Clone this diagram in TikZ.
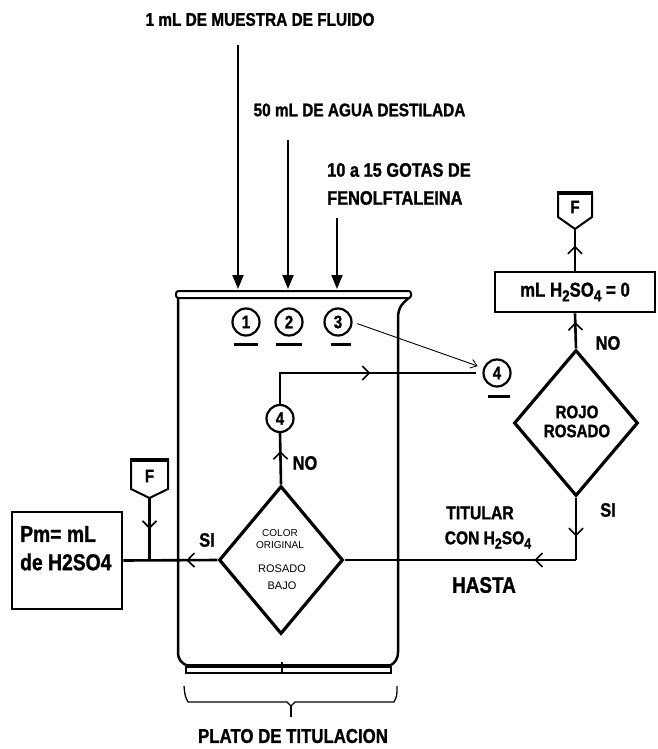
\documentclass[tikz,border=0pt]{standalone}
\usepackage{graphicx}
\usepackage{fontspec}
\setmainfont{Liberation Sans}[FakeStretch=0.84, BoldFeatures={FakeBold=1.2}]
\newfontfamily\plainsans{Liberation Sans}
\usetikzlibrary{arrows.meta,shapes.geometric,decorations.markings,calc}
\newcommand\fsz[1]{\fontsize{#1}{#1}\selectfont}
\newcommand\sbs[1]{\raisebox{-0.45ex}{\scalebox{0.8}{#1}}}
\tikzset{
  opentip/.tip={Straight Barb[length=7pt,width=14pt,line width=1.6pt]},
  txt/.style={font=\bfseries\fsz{#1}, inner sep=0pt},
  smalltxt/.style={font=\plainsans\fsz{#1}, inner sep=0pt},
  flow/.style={line width=2.6pt},
  midarrow/.style={postaction={decorate}, decoration={markings, mark=at position #1 with {\arrow{opentip}}}},
  toparrow/.style={line width=2pt, -{Triangle[length=14pt,width=11pt]}},
  circ/.style={circle, draw, line width=2.2pt, minimum size=27pt, inner sep=0pt, font=\bfseries\fsz{18}},
  uline/.style={line width=3pt},
  dia/.style={diamond, draw, line width=3.2pt, inner sep=0pt},
  boxx/.style={draw, line width=2.6pt, inner sep=0pt}
}
\begin{document}
\begin{tikzpicture}[x=1pt,y=-1pt]
\useasboundingbox (0,0) rectangle (658,749);

% top texts
\node[txt=18.3] (t1) at (260,19.5) {1 mL DE MUESTRA DE FLUIDO};
\node[txt=18.3] (t2) at (359.5,110) {50 mL DE AGUA DESTILADA};
\node[txt=19.5, anchor=west] (t3a) at (327,170) {10 a 15 GOTAS DE};
\node[txt=19.5, anchor=west] (t3b) at (327,198) {FENOLFTALEINA};

% top arrows
\coordinate (a1s) at (238,45);  \coordinate (a1e) at (238,289);
\coordinate (a2s) at (288,140); \coordinate (a2e) at (288,289);
\coordinate (a3s) at (337,218); \coordinate (a3e) at (337,289);
\draw[toparrow] (a1s) -- (a1e);
\draw[toparrow] (a2s) -- (a2e);
\draw[toparrow] (a3s) -- (a3e);

% beaker
\draw[line width=2.5pt] (178,298) -- (178,652) .. controls (178,660) and (182,663) .. (186,665);
\draw[line width=2.5pt] (410,297) .. controls (404,302) and (398,306) .. (398,318) -- (398,652) .. controls (398,660) and (394,663) .. (391,665);
\draw[line width=2pt, rounded corners=2.5pt, fill=white] (176,291) rectangle (411,298);
\draw[line width=3.5pt] (186,666) -- (391,666);
\draw[line width=1.2pt] (186,666) -- (186,673) -- (391,673) -- (391,666);
\draw[line width=1.5pt] (282,662) -- (282,673);

% brace
\draw[line width=1.3pt, line join=round] (184,686) .. controls (185,696) .. (188,702) -- (287,702) -- (291,706) -- (295,702) -- (394,702) .. controls (397,696) .. (397,686);
\draw[line width=1.3pt] (291,706) -- (291,717);
\node[txt=20] (plato) at (293,736) {PLATO DE TITULACION};

% circles
\node[circ] (c1) at (246,322) {1};
\node[circ] (c2) at (289,322) {2};
\node[circ] (c3) at (338,322) {3};
\draw[uline] ($(c1.south)+(-12,7.5)$) -- ++(24,0);
\draw[uline] ($(c2.south)+(-13,7.5)$) -- ++(26,0);
\draw[uline] ($(c3.south)+(-7,7.5)$) -- ++(20,0);
\node[circ] (c4r) at (497,373) {4};
\draw[uline] ($(c4r.south)+(-9,9)$) -- ++(22,0);
\node[circ] (c4i) at (280,418.5) {4};

% diamonds
\node[dia, minimum width=124pt, minimum height=148pt] (id) at (281,560) {};
\node[smalltxt=10] (idt1) at (280,533) {COLOR};
\node[smalltxt=10] (idt2) at (280,545) {ORIGINAL};
\node[smalltxt=11] (idt3) at (282,569) {ROSADO};
\node[smalltxt=11] (idt4) at (282,586) {BAJO};

\node[dia, minimum width=124pt, minimum height=146pt] (rd) at (576,423) {};
\node[txt=18] (rdt1) at (577,412) {ROJO};
\node[txt=18] (rdt2) at (577,431) {ROSADO};

% boxes
\node[boxx, minimum width=160pt, minimum height=40pt, txt=20] (h0) at (575,292) {mL H\sbs{2}SO\sbs{4} = 0};
\node[boxx, minimum width=110pt, minimum height=97pt] (pm) at (67,560.5) {};
\node[txt=23, anchor=west] (pm1) at (20,534) {Pm= mL};
\node[txt=23, anchor=west] (pm2) at (20,562) {de H2SO4};

% off-page connectors
\draw[line width=2pt, line join=miter] (131,460) -- (131,489) -- (149.5,498) -- (168,489) -- (168,460);
\draw[line width=4pt] (130,460) -- (169,460);
\node[txt=18] (fl) at (149.5,476) {F};
\coordinate (fltip) at (149.5,498);

\draw[line width=2pt, line join=miter] (558,193) -- (558,217) -- (575,229) -- (592,217) -- (592,193);
\draw[line width=4pt] (557,193) -- (593,193);
\node[txt=18] (fr) at (575,207) {F};
\coordinate (frtip) at (575,229);

% connectors
\coordinate (jl) at (fltip |- id.west);
\draw[flow, midarrow=0.5] (fltip) -- (jl);
\draw[flow, midarrow=0.33] (id.west) -- (pm.east);
\draw[flow, midarrow=0.65] (id.north) -- (c4i.south);
\draw[flow, midarrow=0.52, shorten >=6pt] (c4i.north) |- (c4r.west);
\draw[line width=0.9pt, -{Straight Barb[length=6pt,width=9pt]}, shorten <=5pt, shorten >=6pt] (c3.east) -- (c4r.160);
\coordinate (jr) at (rd.south |- id.east);
\draw[flow, midarrow=0.62] (rd.south) -- (jr);
\draw[flow, midarrow=0.18] (jr) -- (id.east);
\draw[flow, midarrow=0.75] (rd.north) -- (h0.south);
\draw[flow, midarrow=0.6] (h0.north) -- (frtip);

% labels
\node[txt=19.5] (no1) at (305,463) {NO};
\node[txt=19.5] (si1) at (207,540) {SI};
\node[txt=19.5] (si2) at (608,510) {SI};
\node[txt=19.5] (no2) at (608,343) {NO};
\node[txt=18.8] (tit) at (480,513) {TITULAR};
\node[txt=18.5] (con) at (488,540) {CON H\sbs{2}SO\sbs{4}};
\node[txt=22.5] (hasta) at (484,585) {HASTA};
\end{tikzpicture}
\end{document}
